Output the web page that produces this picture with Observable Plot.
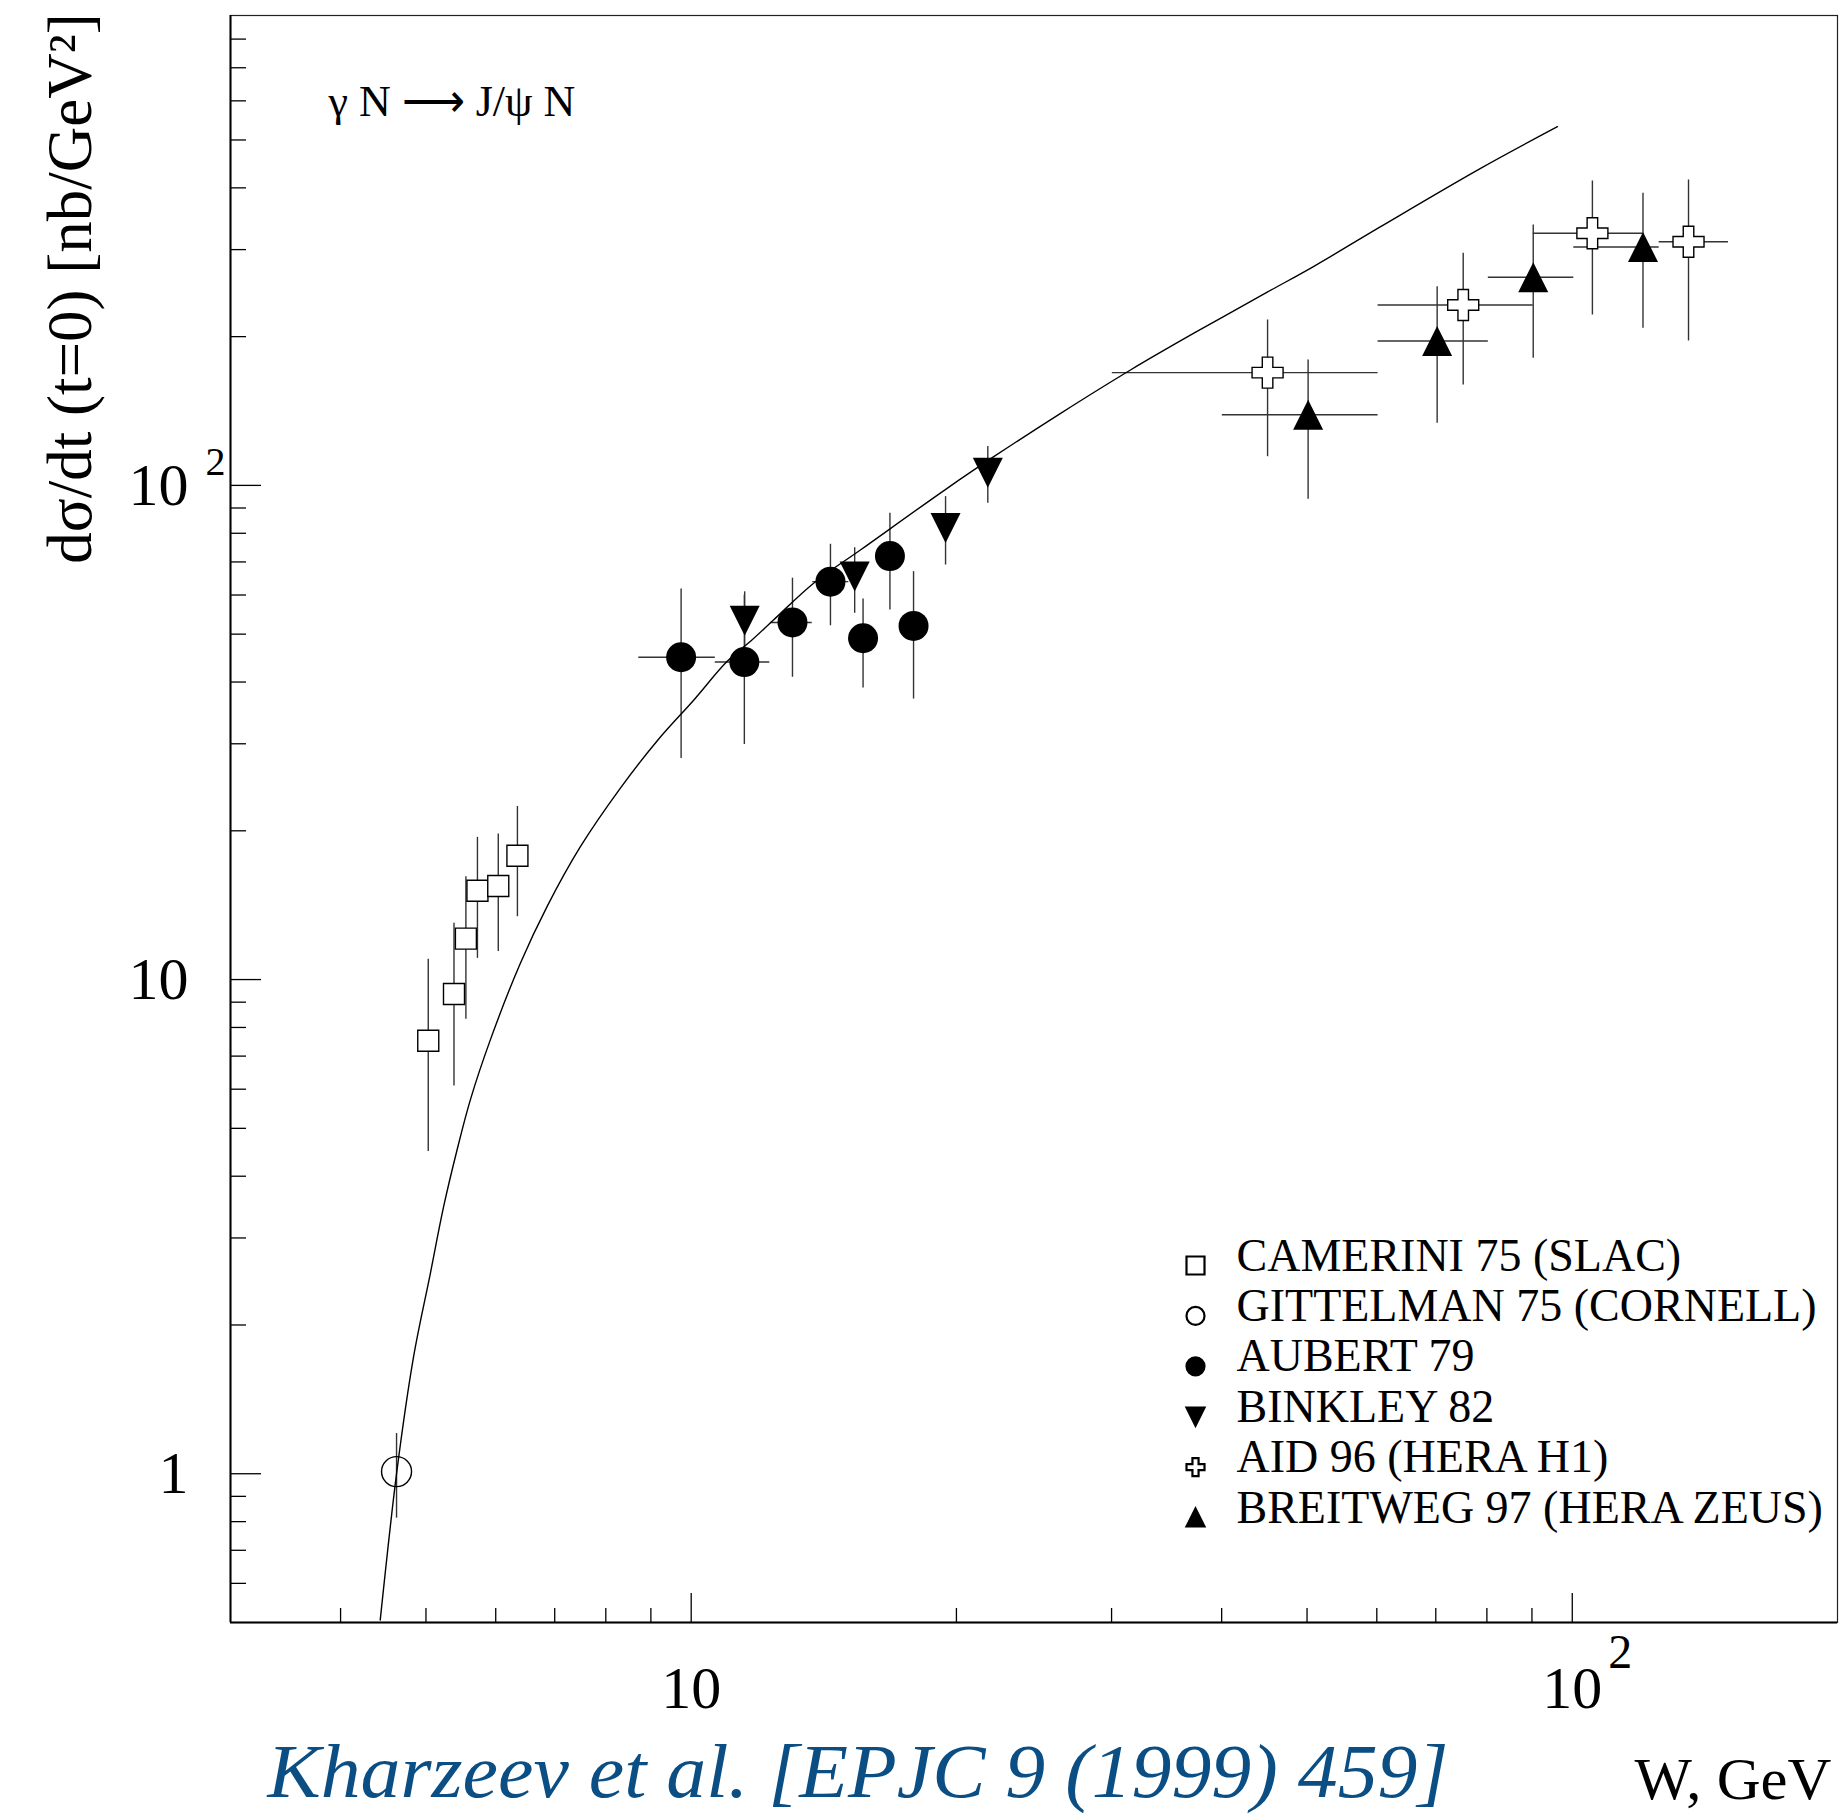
<!DOCTYPE html>
<html><head><meta charset="utf-8">
<script src="https://cdn.jsdelivr.net/npm/d3@7"></script>
<script src="https://cdn.jsdelivr.net/npm/@observablehq/plot@0.6"></script>
<style>
html,body{margin:0;padding:0;background:#fff;overflow:hidden;}
#chart svg{display:block;}
</style></head><body><div id="chart"></div>
<script>
// ---------- data ----------
// CAMERINI 75 (SLAC)
const camW  = [5.03, 5.38, 5.55, 5.72, 6.04, 6.35];
const camV  = [7.52, 9.35, 12.1, 15.13, 15.46, 17.81];
const camLo = [4.49, 6.09, 8.31, 11.04, 11.4, 13.4];
const camHi = [10.99, 13.0, 16.15, 19.4, 19.7, 22.4];
// GITTELMAN 75 (CORNELL)
const gitW  = [4.63];
const gitV  = [1.01];
const gitLo = [0.813];
const gitHi = [1.206];
// AUBERT 79
const aubW   = [9.74, 11.49, 13.03, 14.39, 15.67, 16.81, 17.88];
const aubV   = [44.9, 43.9, 52.8, 63.85, 49.05, 71.95, 51.95];
const aubLo  = [28.0, 29.9, 40.9, 52.0, 38.9, 55.95, 36.96];
const aubHi  = [61.7, 60.0, 64.9, 76.0, 58.9, 87.8, 66.9];
const aubWlo = [8.72, 10.65, 12.30, 13.74, null, null, null];
const aubWhi = [10.65, 12.28, 13.72, 15.1, null, null, null];
// BINKLEY 82
const binW  = [11.50, 15.33, 19.44, 21.71];
const binV  = [53.2, 65.4, 82.0, 106.1];
const binLo = [47.0, 55.1, 69.0, 92.0];
const binHi = [60.9, 74.8, 94.9, 119.8];
// AID 96 (HERA H1)
const aidW   = [45.1, 75.2, 105.4, 135.5];
const aidV   = [169.1, 231.7, 323.7, 311.2];
const aidLo  = [114.3, 159.7, 221.2, 196.0];
const aidHi  = [216.1, 294.9, 413.0, 415.0];
const aidWlo = [30.06, 60.2, 90.3, 125.5];
const aidWhi = [60.2, 90.3, 120.2, 150.4];
// BREITWEG 97 (HERA ZEUS)
const zeuW   = [50.14, 70.25, 90.3, 120.3];
const zeuV   = [139.0, 196.0, 263.7, 303.7];
const zeuLo  = [93.7, 133.6, 180.8, 207.9];
const zeuHi  = [179.4, 252.4, 336.5, 390.0];
const zeuWlo = [40.07, 60.2, 80.3, 100.4];
const zeuWhi = [60.2, 80.3, 100.4, 125.5];
// theory curve
const curveW = [4.437, 4.636, 4.841, 5.058, 5.236, 5.423, 5.615, 5.916, 6.399, 6.861, 7.486, 8.311, 9.147, 10.07, 10.98, 11.72, 12.40, 13.77, 15.56, 19.52, 22.05, 26.26, 31.52, 37.2, 45.06, 50.9, 60.6, 78.7, 96.2];
const curveV = [0.506, 1.018, 1.726, 2.544, 3.47, 4.52, 5.71, 7.55, 10.79, 14.05, 18.57, 24.4, 30.4, 36.8, 44.0, 48.66, 53.4, 63.4, 74.0, 98.65, 114.3, 139.9, 171.2, 203.2, 246.0, 277.5, 333.9, 438.1, 531.9];
// ticks and labels
const xMajor = [10, 100];
const xMinor = [4, 5, 6, 7, 8, 9, 20, 30, 40, 50, 60, 70, 80, 90];
const xTickText = ["10", "10"];
const xTickSup  = ["", "2"];
const yMajor = [1, 10, 100];
const yMinor = [0.6, 0.7, 0.8, 0.9, 2, 3, 4, 5, 6, 7, 8, 9, 20, 30, 40, 50, 60, 70, 80, 90, 200, 300, 400, 500, 600, 700, 800];
const yTickText = ["1", "10", "10"];
const yTickSup  = ["", "", "2"];
const legendNames = ["CAMERINI 75 (SLAC)", "GITTELMAN 75 (CORNELL)", "AUBERT 79", "BINKLEY 82", "AID 96 (HERA H1)", "BREITWEG 97 (HERA ZEUS)"];
const yTitle = "dσ/dt (t=0) [nb/GeV²]";
const reaction = "γ N ⟶ J/ψ N";
const citation = "Kharzeev et al. [EPJC 9 (1999) 459]";
const xTitle = "W, GeV";

// ---------- build tables ----------
function rows(W, V, Lo, Hi, Wlo, Whi) {
  return W.map((w, i) => ({W: w, v: V[i], lo: Lo[i], hi: Hi[i],
    wlo: Wlo ? Wlo[i] : null, whi: Whi ? Whi[i] : null}));
}
const cam = rows(camW, camV, camLo, camHi);
const git = rows(gitW, gitV, gitLo, gitHi);
const aub = rows(aubW, aubV, aubLo, aubHi, aubWlo, aubWhi);
const bin = rows(binW, binV, binLo, binHi);
const aid = rows(aidW, aidV, aidLo, aidHi, aidWlo, aidWhi);
const zeu = rows(zeuW, zeuV, zeuLo, zeuHi, zeuWlo, zeuWhi);
const all = [...cam, ...git, ...aub, ...bin, ...aid, ...zeu];
const withBins = all.filter(d => d.wlo != null);
const curve = curveW.map((w, i) => ({W: w, v: curveV[i]}));

// ---------- ROOT-like marker shapes ----------
const rad = s => Math.sqrt(s / Math.PI);
const symSquare = {draw(c, s) { const r = rad(s); c.rect(-r, -r, 2 * r, 2 * r); }};
const symTriUp = {draw(c, s) { const r = rad(s); c.moveTo(0, -r); c.lineTo(r, r); c.lineTo(-r, r); c.closePath(); }};
const symTriDown = {draw(c, s) { const r = rad(s); c.moveTo(0, r); c.lineTo(r, -r); c.lineTo(-r, -r); c.closePath(); }};
const symCross = {draw(c, s) { const r = rad(s), a = r * 0.34;
  c.moveTo(-a, -r); c.lineTo(a, -r); c.lineTo(a, -a); c.lineTo(r, -a); c.lineTo(r, a); c.lineTo(a, a);
  c.lineTo(a, r); c.lineTo(-a, r); c.lineTo(-a, a); c.lineTo(-r, a); c.lineTo(-r, -a); c.lineTo(-a, -a); c.closePath(); }};
const symCircle = {draw(c, s) { const r = rad(s); c.moveTo(r, 0); c.arc(0, 0, r, 0, 2 * Math.PI); }};

const styles = [
  {symbol: symSquare, fill: "white", stroke: "black", r: 10.5},
  {symbol: symCircle, fill: "none", stroke: "black", r: 15},
  {symbol: symCircle, fill: "black", stroke: "none", r: 15},
  {symbol: symTriDown, fill: "black", stroke: "none", r: 15},
  {symbol: symCross, fill: "white", stroke: "black", r: 15.5},
  {symbol: symTriUp, fill: "black", stroke: "none", r: 15}
];
const seriesData = [cam, git, aub, bin, aid, zeu];

// ---------- layout ----------
const W = 1839, H = 1814, mL = 230, mT = 15, mR = 2, mB = 192;
const fw = W - mL - mR, fh = H - mT - mB;
const errStroke = "#333";

const marks = [
  // error bars
  Plot.ruleX(all, {x: "W", y1: "lo", y2: "hi", stroke: errStroke, strokeWidth: 1.4}),
  Plot.ruleY(withBins, {y: "v", x1: "wlo", x2: "whi", stroke: errStroke, strokeWidth: 1.4}),
  // markers
  ...seriesData.map((d, i) => Plot.dot(d, {x: "W", y: "v", symbol: styles[i].symbol, r: styles[i].r,
      fill: styles[i].fill, stroke: styles[i].stroke, strokeWidth: 1.4})),
  // theory curve
  Plot.line(curve, {x: "W", y: "v", curve: "catmull-rom", stroke: "black", strokeWidth: 1.4, clip: true}),
  // frame
  Plot.frame({stroke: "#222", strokeWidth: 1.2}),
  Plot.ruleX([3], {stroke: "black", strokeWidth: 2}),
  Plot.ruleY([0.5], {stroke: "black", strokeWidth: 2}),
  // inward ticks
  Plot.tickY(yMajor, {y: d => d, insetRight: fw - 31, stroke: "black", strokeWidth: 1.3}),
  Plot.tickY(yMinor, {y: d => d, insetRight: fw - 16, stroke: "black", strokeWidth: 1.3}),
  Plot.tickX(xMajor, {x: d => d, insetTop: fh - 29, stroke: "black", strokeWidth: 1.3}),
  Plot.tickX(xMinor, {x: d => d, insetTop: fh - 14, stroke: "black", strokeWidth: 1.3}),
  // tick labels
  Plot.text(yMajor, {y: d => d, text: (d, i) => yTickText[i], frameAnchor: "left", lineAnchor: "middle", textAnchor: "end", dx: -42, fontSize: 60, fill: "black"}),
  Plot.text(yMajor, {y: d => d, text: (d, i) => yTickSup[i], frameAnchor: "left", lineAnchor: "middle", textAnchor: "start", dx: -25, dy: -23, fontSize: 40, fill: "black"}),
  Plot.text(xMajor, {x: d => d, text: (d, i) => xTickText[i], frameAnchor: "bottom", lineAnchor: "middle", textAnchor: "middle", dy: 66, fontSize: 60, fill: "black"}),
  Plot.text(xMajor, {x: d => d, text: (d, i) => xTickSup[i], frameAnchor: "bottom", lineAnchor: "middle", textAnchor: "start", dx: 36, dy: 30, fontSize: 48, fill: "black"}),
  // titles
  Plot.text([yTitle], {text: d => d, frameAnchor: "top-left", lineAnchor: "middle", rotate: -90, textAnchor: "middle", dx: -160, dy: 273, fontSize: 63, fill: "black"}),
  Plot.text([reaction], {text: d => d, frameAnchor: "top-left", lineAnchor: "middle", textAnchor: "start", dx: 98, dy: 86, fontSize: 44, fill: "black"}),
  Plot.text([citation], {text: d => d, frameAnchor: "bottom-left", lineAnchor: "middle", textAnchor: "start", dx: 37, dy: 150, fontSize: 77, fontStyle: "italic", fill: "#0a4e84", className: "cite"}),
  Plot.text([xTitle], {text: d => d, frameAnchor: "bottom-left", lineAnchor: "middle", textAnchor: "start", dx: 1404, dy: 158, fontSize: 59, fill: "black", className: "xtitle"}),
  // legend
  ...legendNames.map((name, i) => Plot.dot([name], {frameAnchor: "top-left", dx: 965, dy: 1250 + 50.4 * i,
      symbol: styles[i].symbol, r: 9, fill: styles[i].fill === "none" ? "white" : styles[i].fill, stroke: "black", strokeWidth: 2.2})),
  ...legendNames.map((name, i) => Plot.text([name], {text: d => d, frameAnchor: "top-left", lineAnchor: "middle", textAnchor: "start",
      dx: 1006, dy: 1240.3 + 50.4 * i, fontSize: 46, fill: "black"}))
];

const chart = Plot.plot({
  width: W, height: H,
  marginLeft: mL, marginTop: mT, marginRight: mR, marginBottom: mB,
  x: {type: "log", domain: [3, 200], axis: null},
  y: {type: "log", domain: [0.5, 893], axis: null},
  style: {fontFamily: "'Liberation Serif', 'Times New Roman', serif", background: "white", color: "black", overflow: "visible"},
  marks
});
// stretch the citation and x title to the reference's text widths
d3.select(chart).selectAll(".cite text").attr("textLength", 1181).attr("lengthAdjust", "spacingAndGlyphs");
d3.select(chart).selectAll(".xtitle text").attr("textLength", 197).attr("lengthAdjust", "spacingAndGlyphs");
document.getElementById("chart").appendChild(chart);
</script>
</body></html>
